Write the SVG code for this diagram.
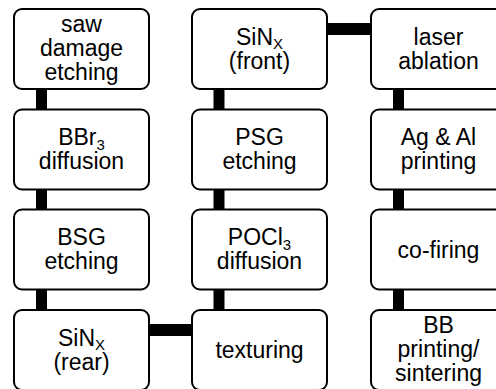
<svg xmlns="http://www.w3.org/2000/svg" width="496" height="389" viewBox="0 0 496 389">
<style>
.box{fill:#fff;stroke:#000;stroke-width:2}
.con{fill:#000}
text{font-family:"Liberation Sans",Arial,sans-serif;font-size:23px;fill:#000;text-anchor:middle}
.sub{font-size:15px}
</style>
<rect width="496" height="389" fill="#fff"/>
<g id="connectors">
<rect class="con" x="36" y="85" width="11" height="28"/>
<rect class="con" x="36" y="185" width="11" height="28"/>
<rect class="con" x="36" y="285" width="11" height="29"/>
<rect class="con" x="213.5" y="85" width="11" height="28"/>
<rect class="con" x="213.5" y="185" width="11" height="28"/>
<rect class="con" x="213.5" y="285" width="11" height="29"/>
<rect class="con" x="393" y="85" width="11" height="28"/>
<rect class="con" x="393" y="185" width="11" height="28"/>
<rect class="con" x="393" y="285" width="11" height="29"/>
<rect class="con" x="145" y="324" width="51" height="12"/>
<rect class="con" x="323" y="23" width="52" height="12"/>
</g>
<g id="n1"><rect class="box" x="14" y="9" width="135" height="80" rx="8"/>
<text x="81.5" y="31.5">saw</text><text x="81.5" y="55.5">damage</text><text x="81.5" y="79.5">etching</text></g>
<g id="n2"><rect class="box" x="14" y="109.5" width="135" height="80" rx="8"/>
<text x="81.5" y="145">BBr<tspan class="sub" dy="5">3</tspan></text><text x="81.5" y="169">diffusion</text></g>
<g id="n3"><rect class="box" x="14" y="209.5" width="135" height="80" rx="8"/>
<text x="81.5" y="244.5">BSG</text><text x="81.5" y="268.5">etching</text></g>
<g id="n4"><rect class="box" x="14" y="310" width="135" height="80" rx="8"/>
<text x="81.5" y="345.5">SiN<tspan class="sub" dy="4">X</tspan></text><text x="81.5" y="369.5">(rear)</text></g>
<g id="n5"><rect class="box" x="192" y="310" width="135" height="80" rx="8"/>
<text x="259.5" y="357.5">texturing</text></g>
<g id="n6"><rect class="box" x="192" y="209.5" width="135" height="80" rx="8"/>
<text x="259.5" y="244.5">POCl<tspan class="sub" dy="5">3</tspan></text><text x="259.5" y="268.5">diffusion</text></g>
<g id="n7"><rect class="box" x="192" y="109.5" width="135" height="80" rx="8"/>
<text x="259.5" y="145">PSG</text><text x="259.5" y="169">etching</text></g>
<g id="n8"><rect class="box" x="192" y="9" width="135" height="80" rx="8"/>
<text x="259.5" y="44.5">SiN<tspan class="sub" dy="4">X</tspan></text><text x="259.5" y="68.5">(front)</text></g>
<g id="n9"><rect class="box" x="371" y="9" width="135" height="80" rx="8"/>
<text x="438.5" y="44.5">laser</text><text x="438.5" y="68.5">ablation</text></g>
<g id="n10"><rect class="box" x="371" y="109.5" width="135" height="80" rx="8"/>
<text x="438.5" y="145">Ag &amp; Al</text><text x="438.5" y="169">printing</text></g>
<g id="n11"><rect class="box" x="371" y="209.5" width="135" height="80" rx="8"/>
<text x="438.5" y="257.5">co-firing</text></g>
<g id="n12"><rect class="box" x="371" y="310" width="135" height="80" rx="8"/>
<text x="438.5" y="332.5">BB</text><text x="438.5" y="356.5">printing/</text><text x="438.5" y="380.5">sintering</text></g>
</svg>
